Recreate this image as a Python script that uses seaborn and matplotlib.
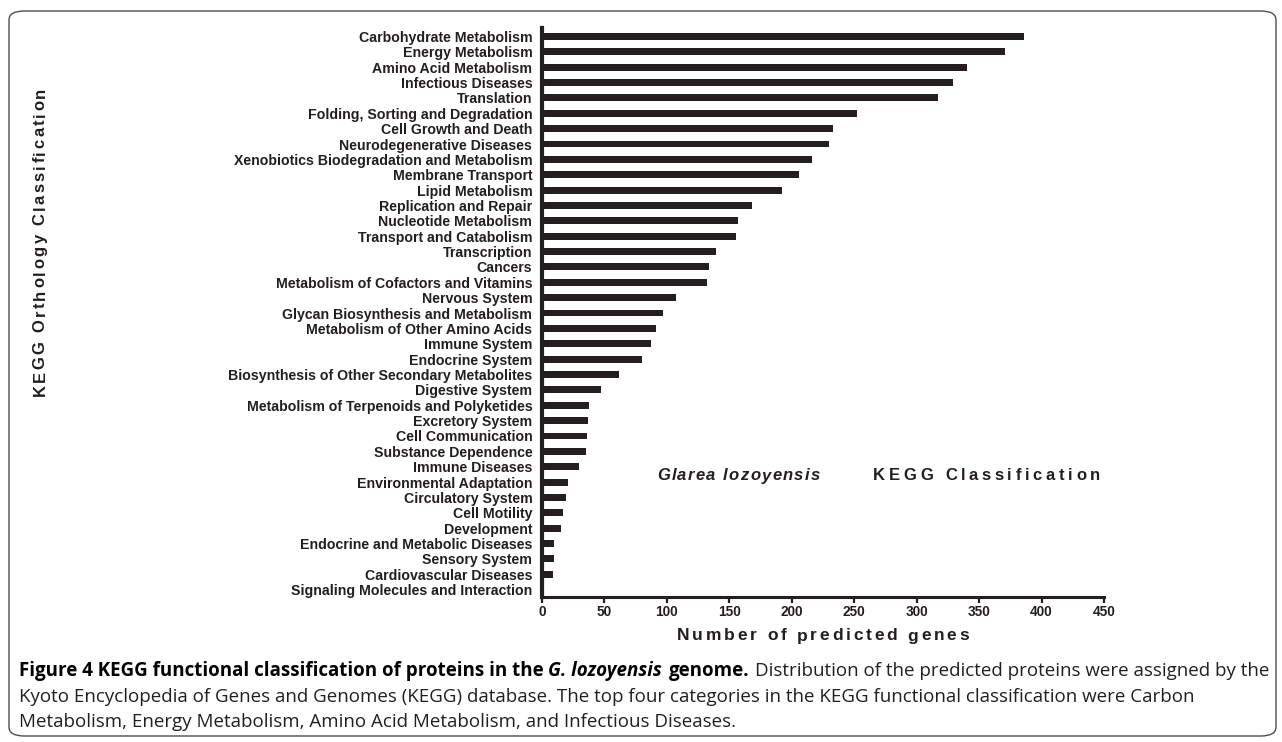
import matplotlib
matplotlib.use("Agg")
import matplotlib.pyplot as plt
from matplotlib.patches import FancyBboxPatch
import seaborn as sns
import pandas as pd

# KEGG orthology classes and number of predicted genes in each
categories = [
    "Carbohydrate Metabolism", "Energy Metabolism", "Amino Acid Metabolism",
    "Infectious Diseases", "Translation", "Folding, Sorting and Degradation",
    "Cell Growth and Death", "Neurodegenerative Diseases",
    "Xenobiotics Biodegradation and Metabolism", "Membrane Transport",
    "Lipid Metabolism", "Replication and Repair", "Nucleotide Metabolism",
    "Transport and Catabolism", "Transcription", "Cancers",
    "Metabolism of Cofactors and Vitamins", "Nervous System",
    "Glycan Biosynthesis and Metabolism", "Metabolism of Other Amino Acids",
    "Immune System", "Endocrine System",
    "Biosynthesis of Other Secondary Metabolites", "Digestive System",
    "Metabolism of Terpenoids and Polyketides", "Excretory System",
    "Cell Communication", "Substance Dependence", "Immune Diseases",
    "Environmental Adaptation", "Circulatory System", "Cell Motility",
    "Development", "Endocrine and Metabolic Diseases", "Sensory System",
    "Cardiovascular Diseases", "Signaling Molecules and Interaction",
]
gene_counts = [
    386, 371, 340, 329, 317, 252, 233, 230, 216, 206, 192, 168, 157,
    155, 139, 134, 132, 107, 97, 91, 87, 80, 62, 47, 38, 37, 36, 35,
    30, 21, 19, 17, 15, 10, 10, 9, 2,
]
x_ticks = [0, 50, 100, 150, 200, 250, 300, 350, 400, 450]

caption_lines = [
    [("Figure 4 KEGG functional classification of proteins in the", "bold", "normal"),
     ("G. lozoyensis", "bold", "italic"),
     ("genome.", "bold", "normal"),
     ("Distribution of the predicted proteins were assigned by the", "normal", "normal")],
    [("Kyoto Encyclopedia of Genes and Genomes (KEGG) database. The top four categories in the KEGG functional classification were Carbon",
      "normal", "normal")],
    [("Metabolism, Energy Metabolism, Amino Acid Metabolism, and Infectious Diseases.", "normal", "normal")],
]

sns.set_theme(style="white")
plt.rcParams["font.family"] = ["Liberation Sans", "DejaVu Sans"]

INK = "#231f20"
W, H = 1282, 742
fig = plt.figure(figsize=(W / 100, H / 100), dpi=100)
renderer = fig.canvas.get_renderer()

# rounded frame around chart and caption
frame = FancyBboxPatch((9 / W, 6 / H), 1267 / W, 725 / H,
                       boxstyle="round,pad=0,rounding_size=0.012",
                       transform=fig.transFigure, facecolor="none",
                       edgecolor="#4d4d4d", linewidth=1.0)
fig.patches.append(frame)

ax = fig.add_axes([542 / W, 1 - 597 / H, (1104 - 542) / W, (597 - 28) / H])
df = pd.DataFrame({"category": categories, "genes": gene_counts})
sns.barplot(data=df, x="genes", y="category", color=INK, width=0.45,
            saturation=1, ax=ax, edgecolor="none")

ax.set_xlim(0, 450)
ax.set_ylim(36.48, -0.55)
ax.set_xticks(x_ticks)
ax.set_xticklabels([str(t) for t in x_ticks], fontsize=9.8, fontweight="bold", color=INK)
ax.set_yticks(range(len(categories)))
ax.set_yticklabels(categories, fontsize=10.2, fontweight="bold", color=INK)
ax.set_xlabel("")
ax.set_ylabel("")
ax.tick_params(axis="y", length=0, pad=7)
ax.tick_params(axis="x", length=4, width=1.6, color=INK, pad=2, direction="out", bottom=True)
for side in ("top", "right"):
    ax.spines[side].set_visible(False)
ax.spines["left"].set_linewidth(3.0)
ax.spines["left"].set_color(INK)
ax.spines["bottom"].set_linewidth(2.2)
ax.spines["bottom"].set_color(INK)
ax.set_facecolor("white")


def text_width(s, **kw):
    t = fig.text(0, 0, s, **kw)
    w = t.get_window_extent(renderer).width
    t.remove()
    return w


def char_advance(ch, **kw):
    """Horizontal advance of one character, measured between two H's."""
    return text_width("H" + ch + "H", **kw) - text_width("HH", **kw)


def tracked_text(x_px, y_px, s, width_px, ha="left", vertical=False, **kw):
    """Letter-spaced text spread to a given overall width in pixels."""
    adv = [char_advance(c, **kw) for c in s]
    natural = sum(adv)
    gap = (width_px - natural) / max(len(s) - 1, 1)
    if ha == "center":
        start = -width_px / 2
    elif ha == "right":
        start = -width_px
    else:
        start = 0.0
    pos = start
    for c, a in zip(s, adv):
        if c != " ":
            if vertical:
                fig.text(x_px / W, 1 - (y_px - (pos + a / 2)) / H, c,
                         ha="center", va="center", rotation=90, **kw)
            else:
                fig.text((x_px + pos + a / 2) / W, 1 - y_px / H, c,
                         ha="center", va="center", **kw)
        pos += a + gap


tracked_text(823, 636, "Number of predicted genes", 292, ha="center",
             fontsize=12.5, fontweight="bold", color=INK)
tracked_text(40, 242, "KEGG Orthology Classification", 309, ha="center",
             vertical=True, fontsize=12, fontweight="bold", color=INK)
tracked_text(657, 476, "Glarea lozoyensis", 163, ha="left",
             fontsize=12, fontweight="bold", fontstyle="italic", color=INK)
tracked_text(873, 476, "KEGG Classification", 227, ha="left",
             fontsize=12, fontweight="bold", color=INK)

# caption lines, built from bold / italic / regular runs
cap_font = ["Open Sans", "DejaVu Sans"]
cap_size = 13.5
space_px = char_advance(" ", fontsize=cap_size, family=cap_font)

line_y = [671, 697, 722]
for segs, yy in zip(caption_lines, line_y):
    x_px = 19
    for txt, weight, style in segs:
        colr = "black" if weight == "bold" else "#231f20"
        t = fig.text(x_px / W, 1 - yy / H, txt, ha="left", va="center",
                     fontsize=cap_size, fontweight=weight, fontstyle=style,
                     family=cap_font, color=colr)
        x_px += t.get_window_extent(renderer).width + space_px
        if style == "italic":
            x_px += 2

fig.savefig("out.png", dpi=100, facecolor="white")
